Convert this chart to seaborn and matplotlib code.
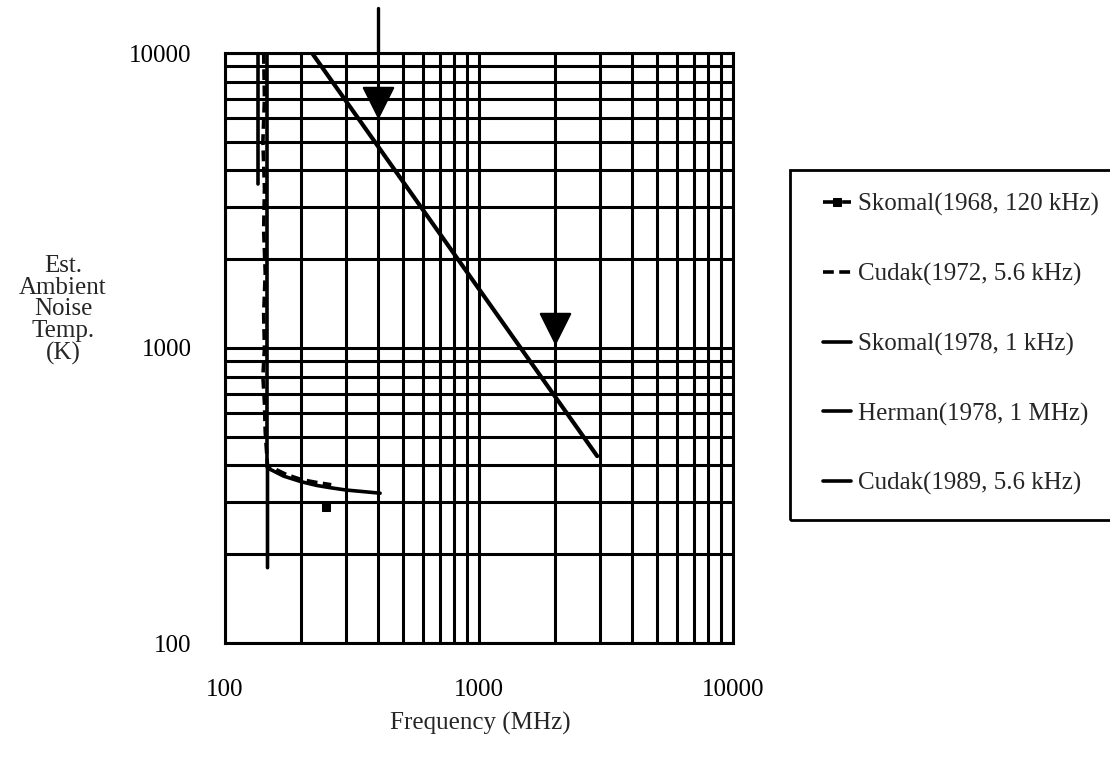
import numpy as np
import pandas as pd
import matplotlib
matplotlib.use("Agg")
import matplotlib.pyplot as plt
import matplotlib.patches as mpatches
from matplotlib.ticker import FixedLocator, FixedFormatter, NullLocator, NullFormatter
import seaborn as sns

# ---------------- data ----------------
skomal68_f = [250]
skomal68_t = [290]

cudak72_f = [142, 143, 141, 143, 142, 144, 142, 143, 141, 143, 144, 147, 175, 200, 230, 262]
cudak72_t = [10000, 7000, 5000, 3500, 2500, 1800, 1300, 1000, 800, 650, 520, 400, 372, 358, 350, 344]

skomal78_f = [147, 147, 170, 200, 230, 260, 300, 350, 408]
skomal78_t = [180, 392, 368, 352, 342, 336, 330, 326, 322]

herman78_f = [220, 2920]
herman78_t = [10000, 430]

cudak89_f = [146, 146]
cudak89_t = [10000, 395]

extra_f = [135, 135]
extra_t = [10000, 3600]

top_line_f = [400, 400]
top_line_t = [10000, 14200]

tri_f = [400, 2000]
tri_t = [6800, 1170]

x_ticks = [100, 1000, 10000]
y_ticks = [100, 1000, 10000]
x_tick_labels = ["100", "1000", "10000"]
y_tick_labels = ["100", "1000", "10000"]

labels = ["Skomal(1968, 120 kHz)", "Cudak(1972, 5.6 kHz)", "Skomal(1978, 1 kHz)",
          "Herman(1978, 1 MHz)", "Cudak(1989, 5.6 kHz)"]

# ---------------- style ----------------
sns.set_style("white")
plt.rcParams["font.family"] = ["Liberation Serif", "DejaVu Serif"]

W, H = 1110, 759
fig = plt.figure(figsize=(W / 100, H / 100), dpi=100)
ax = fig.add_axes([225 / W, 1 - 643 / H, (733 - 225) / W, (643 - 53) / H])
ax.set_xscale("log")
ax.set_yscale("log")
ax.set_xlim(100, 10000)
ax.set_ylim(100, 10000)

# grid: every 1..9 multiple, thick black
grid_vals = [m * 10 ** e for e in (2, 3) for m in range(1, 10)] + [10000]
for v in grid_vals:
    ax.axvline(v, color="black", lw=2.2, zorder=1)
    ax.axhline(v, color="black", lw=2.2, zorder=1)

lw = 2.6
sns.lineplot(x=skomal68_f, y=skomal68_t, ax=ax, color="black", lw=lw, linestyle="--",
             marker="s", markersize=6, markeredgecolor="black", label=labels[0], zorder=5)
sns.lineplot(x=cudak72_f, y=cudak72_t, ax=ax, color="black", lw=lw, sort=False, estimator=None,
             label=labels[1], zorder=4, dashes=(3, 1.5))
sns.lineplot(x=skomal78_f, y=skomal78_t, ax=ax, color="black", lw=lw, sort=False, estimator=None,
             label=labels[2], zorder=4)
sns.lineplot(x=herman78_f, y=herman78_t, ax=ax, color="black", lw=3.0, sort=False, estimator=None,
             label=labels[3], zorder=4)
sns.lineplot(x=cudak89_f, y=cudak89_t, ax=ax, color="black", lw=lw, sort=False, estimator=None,
             label=labels[4], zorder=4)
sns.lineplot(x=extra_f, y=extra_t, ax=ax, color="black", lw=lw, sort=False, estimator=None,
             zorder=4, legend=False)
sns.lineplot(x=top_line_f, y=top_line_t, ax=ax, color="black", lw=2.4, sort=False, estimator=None,
             zorder=4, legend=False, clip_on=False)
sns.scatterplot(x=tri_f, y=tri_t, ax=ax, marker="v", s=440, color="black", edgecolor="black",
                zorder=6, legend=False)

# axes styling
for s in ax.spines.values():
    s.set_color("black")
    s.set_linewidth(2.2)
ax.xaxis.set_major_locator(FixedLocator(x_ticks))
ax.xaxis.set_major_formatter(FixedFormatter(x_tick_labels))
ax.yaxis.set_major_locator(FixedLocator(y_ticks))
ax.yaxis.set_major_formatter(FixedFormatter(y_tick_labels))
ax.xaxis.set_minor_locator(NullLocator())
ax.yaxis.set_minor_locator(NullLocator())
ax.xaxis.set_minor_formatter(NullFormatter())
ax.yaxis.set_minor_formatter(NullFormatter())
ax.tick_params(axis="both", which="major", direction="out", length=6, width=2.2,
               color="black", labelsize=18, labelcolor="black")
ax.tick_params(axis="x", pad=20)
ax.tick_params(axis="y", pad=18)
ax.set_xlabel("")
ax.set_ylabel("")

fig.text(480 / W, 1 - 723 / H, "Frequency (MHz)", ha="center", va="center", fontsize=18)
fig.text(63 / W, 1 - 310 / H, "Est.\nAmbient\nNoise\nTemp.\n(K)", ha="center", va="center",
         fontsize=18, linespacing=0.98, multialignment="center")

# legend
handles, labs = ax.get_legend_handles_labels()
leg = fig.legend(handles, labs, loc="upper left", bbox_to_anchor=(823 / W, 1 - 193 / H),
                 frameon=False, fontsize=18, handlelength=1.1, handletextpad=0.3,
                 labelspacing=1.87, borderpad=0, borderaxespad=0, numpoints=1)
if ax.get_legend() is not None:
    ax.get_legend().remove()
for line in leg.get_lines():
    line.set_linewidth(2.6)

rect = mpatches.Rectangle((790 / W, 1 - 520 / H), (1125 - 790) / W, (520 - 170) / H,
                          transform=fig.transFigure, fill=False, lw=2.0, edgecolor="black",
                          clip_on=False)
fig.add_artist(rect)

fig.savefig("out.png", dpi=100, facecolor="white")
